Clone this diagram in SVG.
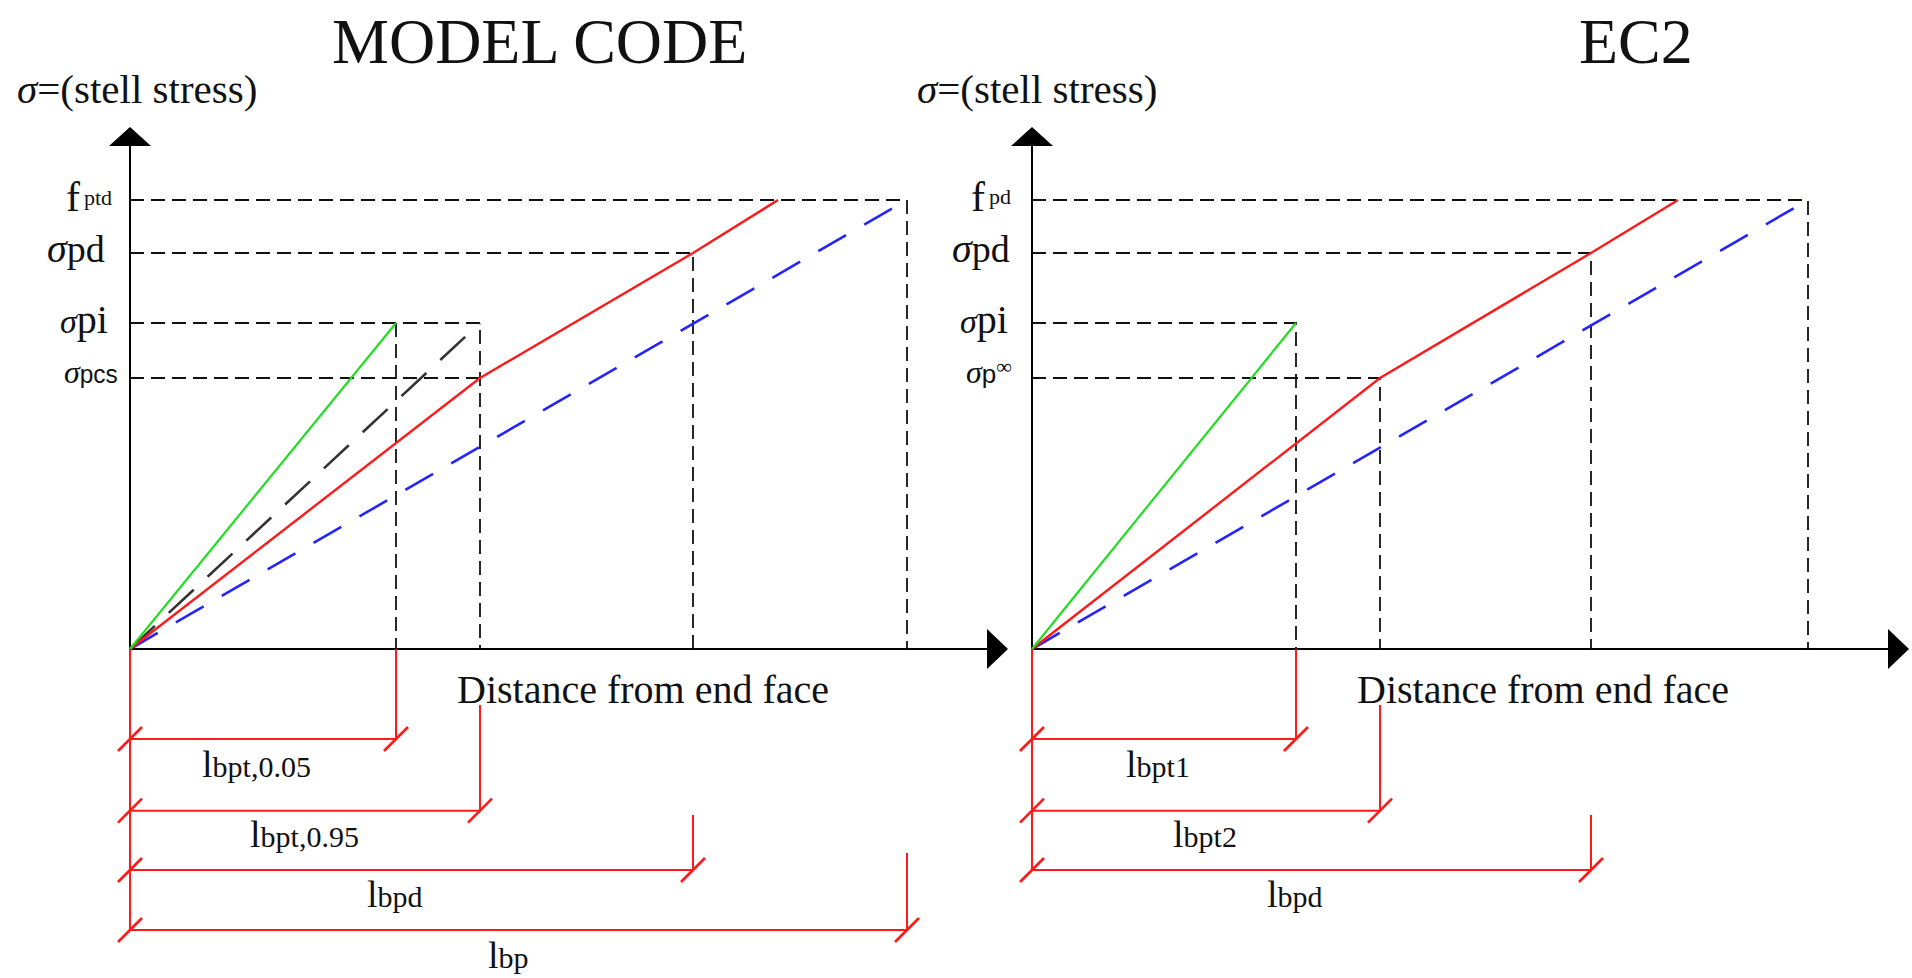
<svg xmlns="http://www.w3.org/2000/svg" width="1912" height="978" viewBox="0 0 1912 978">
  <style>
    .axis{stroke:#000;stroke-width:2;fill:none}
    .head{fill:#000;stroke:none}
    .guide{stroke:#111;stroke-width:1.8;stroke-dasharray:14 7;fill:none}
    .red{stroke:#ff1a1a;stroke-width:2.4;fill:none}
    .green{stroke:#22dd22;stroke-width:2.2;fill:none}
    .blue{stroke:#2424ff;stroke-width:2.6;stroke-dasharray:32 21;fill:none}
    .grey{stroke:#333;stroke-width:2.6;stroke-dasharray:34 19;fill:none}
    .dim{stroke:#ff1a1a;stroke-width:2;fill:none}
    .tick{stroke:#ff1a1a;stroke-width:2.6;fill:none}
    text{font-family:"Liberation Serif","Times New Roman",serif;fill:#111}
    .title{font-size:64px}
    .ax{font-size:41px}
    .it{font-style:italic}
    .big{font-size:38px}
    .sub{font-size:30px}
    .sm{font-size:22px}
    .sans{font-family:"Liberation Sans",Arial,sans-serif}
  </style>
  <defs>
    <path id="tick" class="tick" d="M-12,12 L12,-12"/>
    <polygon id="upArrow" class="head" points="0,-19 -21,0 21,0"/>
    <polygon id="rightArrow" class="head" points="21,0 0,-20 0,20"/>
  </defs>

  <!-- titles -->
  <g id="titles">
    <text class="title" x="332" y="63">MODEL CODE</text>
    <text class="title" x="1579" y="63">EC2</text>
  </g>

  <!-- ===== left chart: Model Code ===== -->
  <g id="mc-axes">
    <line class="axis" x1="130" y1="649" x2="130" y2="146"/>
    <use href="#upArrow" x="130" y="146"/>
    <line class="axis" x1="130" y1="649" x2="988" y2="649"/>
    <use href="#rightArrow" x="987" y="649"/>
    <text class="ax" x="17" y="103"><tspan class="it">σ</tspan>=(stell stress)</text>
    <text class="ax" x="457" y="703" style="font-size:40px">Distance from end face</text>
  </g>

  <g id="mc-guides">
    <path class="guide" d="M130,200 H907 V649"/>
    <path class="guide" d="M130,253 H693 V649"/>
    <path class="guide" d="M130,323 H480 V649"/>
    <path class="guide" d="M396,323 V649"/>
    <path class="guide" d="M130,378 H480"/>
  </g>

  <g id="mc-curves">
    <path class="blue" d="M130,649 L907,200"/>
    <path class="grey" d="M130,649 L480,323"/>
    <path class="red" d="M130,649 L480,378 L693,253 L778,200"/>
    <path class="green" d="M130,649 L396,323"/>
  </g>

  <g id="mc-ylabels">
    <text x="66" y="211"><tspan style="font-size:42px">f</tspan><tspan class="sm" x="84" y="205">ptd</tspan></text>
    <text x="47" y="262" class="big"><tspan class="it" style="font-size:40px">σ</tspan>pd</text>
    <text x="60" y="333"><tspan class="it" style="font-size:34px">σ</tspan><tspan style="font-size:40px">pi</tspan></text>
    <text x="64" y="383"><tspan class="it" style="font-size:32px">σ</tspan><tspan class="sans" style="font-size:26px" textLength="38" lengthAdjust="spacingAndGlyphs">pcs</tspan></text>
  </g>

  <g id="mc-dims">
    <path class="dim" d="M130,649 V930"/>
    <path class="dim" d="M396,649 V739 H130"/>
    <path class="dim" d="M480,705 V810.7 H130"/>
    <path class="dim" d="M693,815 V870 H130"/>
    <path class="dim" d="M907,853 V930 H130"/>
    <use href="#tick" x="130" y="739"/>
    <use href="#tick" x="396" y="739"/>
    <use href="#tick" x="130" y="810.7"/>
    <use href="#tick" x="480" y="810.7"/>
    <use href="#tick" x="130" y="870"/>
    <use href="#tick" x="693" y="870"/>
    <use href="#tick" x="130" y="930"/>
    <use href="#tick" x="907" y="930"/>
    <text x="202" y="777"><tspan class="big">l</tspan><tspan class="sub">bpt,0.05</tspan></text>
    <text x="250" y="847"><tspan class="big">l</tspan><tspan class="sub">bpt,0.95</tspan></text>
    <text x="367" y="907"><tspan class="big">l</tspan><tspan class="sub">bpd</tspan></text>
    <text x="488" y="968"><tspan class="big">l</tspan><tspan class="sub">bp</tspan></text>
  </g>

  <!-- ===== right chart: EC2 ===== -->
  <g id="ec-axes">
    <line class="axis" x1="1032" y1="649" x2="1032" y2="146"/>
    <use href="#upArrow" x="1032" y="146"/>
    <line class="axis" x1="1032" y1="649" x2="1889" y2="649"/>
    <use href="#rightArrow" x="1888" y="649"/>
    <text class="ax" x="917" y="103"><tspan class="it">σ</tspan>=(stell stress)</text>
    <text class="ax" x="1357" y="703" style="font-size:40px">Distance from end face</text>
  </g>

  <g id="ec-guides">
    <path class="guide" d="M1032,200 H1808 V649"/>
    <path class="guide" d="M1032,253 H1591 V649"/>
    <path class="guide" d="M1032,323 H1296 V649"/>
    <path class="guide" d="M1032,378 H1380 V649"/>
  </g>

  <g id="ec-curves">
    <path class="blue" d="M1032,649 L1808,200"/>
    <path class="red" d="M1032,649 L1380,378 L1591,253 L1678,200"/>
    <path class="green" d="M1032,649 L1296,323"/>
  </g>

  <g id="ec-ylabels">
    <text x="971" y="211"><tspan style="font-size:42px">f</tspan><tspan class="sm" x="989" y="204">pd</tspan></text>
    <text x="952" y="262" class="big"><tspan class="it" style="font-size:40px">σ</tspan>pd</text>
    <text x="960" y="333"><tspan class="it" style="font-size:34px">σ</tspan><tspan style="font-size:40px">pi</tspan></text>
    <text x="966" y="383"><tspan class="it" style="font-size:32px">σ</tspan><tspan class="sans" style="font-size:26px">p</tspan><tspan style="font-size:22px" y="374">∞</tspan></text>
  </g>

  <g id="ec-dims">
    <path class="dim" d="M1032,649 V870"/>
    <path class="dim" d="M1296,649 V739 H1032"/>
    <path class="dim" d="M1380,705 V810.7 H1032"/>
    <path class="dim" d="M1591,815 V870 H1032"/>
    <use href="#tick" x="1032" y="739"/>
    <use href="#tick" x="1296" y="739"/>
    <use href="#tick" x="1032" y="810.7"/>
    <use href="#tick" x="1380" y="810.7"/>
    <use href="#tick" x="1032" y="870"/>
    <use href="#tick" x="1591" y="870"/>
    <text x="1126" y="777"><tspan class="big">l</tspan><tspan class="sub">bpt1</tspan></text>
    <text x="1173" y="847"><tspan class="big">l</tspan><tspan class="sub">bpt2</tspan></text>
    <text x="1267" y="907"><tspan class="big">l</tspan><tspan class="sub">bpd</tspan></text>
  </g>
</svg>
